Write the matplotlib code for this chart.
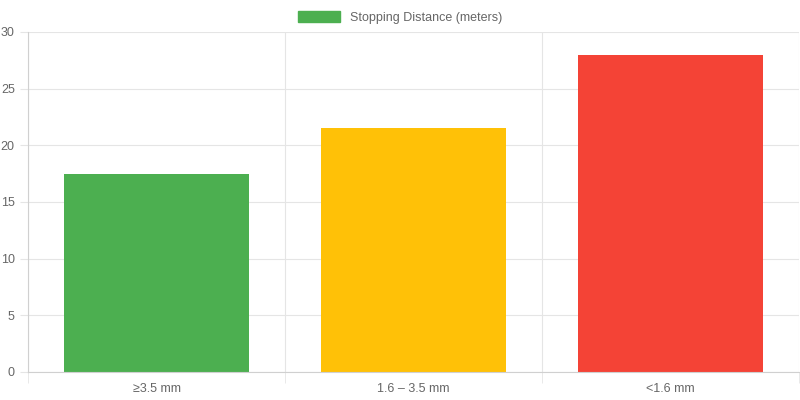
import matplotlib
matplotlib.use("Agg")
import matplotlib.pyplot as plt
from matplotlib.patches import Patch

categories = ["≥3.5 mm", "1.6 – 3.5 mm", "<1.6 mm"]
distances = [17.5, 21.5, 28]
colors = ["#4caf50", "#ffc107", "#f44336"]
yticks = [0, 5, 10, 15, 20, 25, 30]

plt.rcParams['font.family'] = ['Liberation Sans', 'DejaVu Sans']
fig = plt.figure(figsize=(8, 4), dpi=100)
ax = fig.add_axes([0.035, 0.07, 0.964, 0.85])

x = list(range(len(categories)))
ax.bar(x, distances, width=0.72, color=colors, zorder=2)

ax.set_xlim(-0.5, len(categories) - 0.5)
ax.set_ylim(0, 30)
ax.set_yticks(yticks)
ax.set_xticks(x)
ax.set_xticklabels(categories)
ax.set_xticks([i - 0.5 for i in range(len(categories) + 1)], minor=True)

ax.grid(axis='y', color='#e5e5e5', linewidth=0.8, zorder=0)
ax.grid(axis='x', which='minor', color='#e5e5e5', linewidth=0.8, zorder=0)
ax.tick_params(axis='x', which='major', length=0, colors='#666666', labelsize=9, pad=8)
ax.tick_params(axis='x', which='minor', length=8, color='#e5e5e5')
ax.tick_params(axis='y', length=6, color='#e5e5e5', colors='#666666', labelsize=9)
for s in ['top', 'right']:
    ax.spines[s].set_visible(False)
for s in ['left', 'bottom']:
    ax.spines[s].set_color('#d0d0d0')

handles = [Patch(color=colors[0], label="Stopping Distance (meters)")]
fig.legend(handles=handles, loc='upper center', bbox_to_anchor=(0.5, 1.0),
           frameon=False, fontsize=9, labelcolor='#666666',
           handlelength=3.3, handleheight=0.9)

fig.savefig("out.png", dpi=100)
